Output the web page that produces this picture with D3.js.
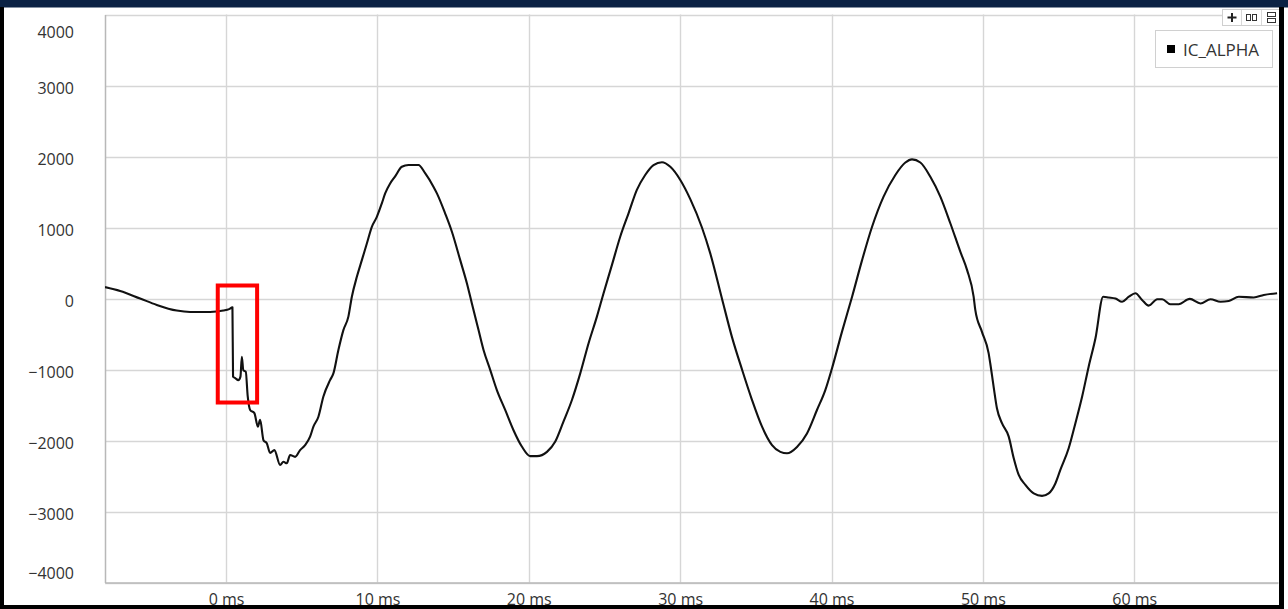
<!DOCTYPE html>
<html>
<head>
<meta charset="utf-8">
<script src="https://cdn.jsdelivr.net/npm/d3@7/dist/d3.min.js"></script>
<style>
  html, body { margin: 0; padding: 0; background: #ffffff; }
  svg { display: block; }
  text { font-family: "Open Sans", "Noto Sans", sans-serif; }
</style>
</head>
<body>
<svg id="chart" width="1288" height="609"></svg>
<script>
// Recorded trace: time in ms, IC_ALPHA sample value
const timeMs = [
  -8.00, -7.00, -5.68, -4.58, -3.26, -2.38, -1.06, -0.18, 0.20, 0.42,
  0.46, 0.60, 0.81, 0.95, 1.04, 1.14, 1.30, 1.43, 1.59, 1.87,
  2.10, 2.25, 2.47, 2.69, 2.91, 3.19, 3.57, 3.79, 4.01, 4.23,
  4.56, 4.89, 5.22, 5.55, 5.77, 6.10, 6.43, 6.87, 7.09, 7.42,
  7.75, 8.08, 8.31, 8.64, 8.97, 9.30, 9.63, 9.96, 10.29, 10.51,
  10.84, 11.17, 11.61, 12.05, 12.71, 13.15, 13.70, 13.93, 14.47, 14.92,
  15.47, 15.91, 16.24, 16.68, 17.01, 17.45, 17.89, 18.44, 18.99, 19.54,
  20.09, 20.54, 21.20, 21.75, 22.29, 22.85, 23.40, 23.95, 24.50, 24.94,
  25.49, 26.04, 26.59, 27.14, 27.69, 28.24, 28.80, 29.35, 30.01, 30.67,
  31.44, 31.99, 32.76, 33.42, 34.08, 34.75, 35.41, 36.07, 36.62, 37.06,
  37.72, 38.38, 39.04, 39.59, 40.03, 40.69, 41.36, 42.02, 42.68, 43.44,
  44.22, 44.88, 45.32, 45.87, 46.53, 47.19, 47.85, 48.51, 48.96, 49.39,
  49.50, 49.94, 50.38, 50.49, 50.71, 50.93, 51.27, 51.71, 52.04, 52.37,
  52.81, 53.36, 53.91, 54.35, 54.79, 55.12, 55.67, 56.11, 56.56, 56.99,
  57.44, 57.95, 58.31, 58.76, 59.20, 59.64, 60.08, 60.52, 60.96, 61.52,
  61.85, 62.39, 62.94, 63.67, 64.38, 65.04, 65.70, 66.25, 66.91, 67.90,
  68.56, 69.44
];
const icAlpha = [
  160, 105, 0, -90, -170, -190, -190, -170, -150, -125,
  -1100, -1120, -1150, -1100, -820, -1010, -1030, -1380, -1570, -1615,
  -1805, -1710, -1995, -2040, -2175, -2135, -2345, -2300, -2320, -2205,
  -2230, -2135, -2065, -1945, -1805, -1665, -1380, -1150, -1055, -725,
  -445, -255, 25, 305, 540, 775, 1010, 1150, 1340, 1480,
  1620, 1720, 1855, 1880, 1880, 1765, 1575, 1480, 1200, 940,
  540, 215, -70, -445, -725, -1005, -1290, -1570, -1855, -2085,
  -2220, -2220, -2160, -2015, -1735, -1430, -1055, -630, -255, 75,
  470, 870, 1200, 1530, 1740, 1880, 1920, 1855, 1670, 1400,
  1000, 635, 0, -540, -995, -1430, -1805, -2065, -2160, -2180,
  -2090, -1900, -1570, -1290, -985, -470, 25, 540, 1010, 1435,
  1740, 1915, 1960, 1915, 1715, 1435, 1060, 660, 400, 25,
  -160, -470, -770, -915, -1240, -1545, -1760, -1945, -2250, -2485,
  -2625, -2745, -2780, -2745, -2605, -2415, -2110, -1760, -1380, -960,
  -560, 25, 15, 0, -45, 25, 75, -20, -100, -10,
  -10, -80, -80, -5, -70, -10, -45, -35, 25, 15,
  50, 75
];

const seriesName = "IC_ALPHA";
const xTicks = [0, 10, 20, 30, 40, 50, 60];
const yTicks = [-4000, -3000, -2000, -1000, 0, 1000, 2000, 3000, 4000];
const xDomain = [-8, 69.5];
const yDomain = [-4000, 4000];
// Highlighted window around the fault instant: [t0, t1, vTop, vBottom]
const highlight = [-0.55, 2.05, 183, -1465];

const W = 1288, H = 609;
const plot = { left: 105, right: 1278, top: 14.5, bottom: 582.5 };

const svg = d3.select("#chart");

const x = d3.scaleLinear().domain(xDomain).range([plot.left, plot.right]);
const y = d3.scaleLinear().domain(yDomain).range([plot.bottom, plot.top]);

// Page background
svg.append("rect").attr("width", W).attr("height", H).attr("fill", "#ffffff");

// Grid
const grid = svg.append("g").attr("class", "grid");
grid.selectAll("line.h").data(yTicks).join("line")
  .attr("class", "h")
  .attr("x1", plot.left).attr("x2", plot.right)
  .attr("y1", d => Math.round(y(d)) + 0.5).attr("y2", d => Math.round(y(d)) + 0.5)
  .attr("stroke", "#d6d6d6").attr("stroke-width", 1.4);
grid.selectAll("line.v").data(xTicks).join("line")
  .attr("class", "v")
  .attr("x1", d => Math.round(x(d)) + 0.5).attr("x2", d => Math.round(x(d)) + 0.5)
  .attr("y1", plot.top).attr("y2", plot.bottom)
  .attr("stroke", "#d6d6d6").attr("stroke-width", 1.4);

// Axes
const yAxis = d3.axisLeft(y).tickValues(yTicks).tickSize(0).tickPadding(31)
  .tickFormat(d3.format("d"));
const gy = svg.append("g").attr("transform", `translate(${plot.left},0)`).call(yAxis);
gy.select(".domain").attr("stroke", "#b8b8b8").attr("stroke-width", 1.5);
gy.selectAll(".tick text")
  .attr("font-size", 16).attr("fill", "#333333")
  .attr("font-family", "'Open Sans', sans-serif")
  .attr("dy", "0.42em")
  .attr("y", d => d === yDomain[1] ? 16 : (d === yDomain[0] ? -11 : 1.5));

const xAxis = d3.axisBottom(x).tickValues(xTicks).tickSize(0)
  .tickFormat(d => d + " ms");
const gx = svg.append("g").attr("transform", `translate(0,${plot.bottom})`).call(xAxis);
gx.select(".domain").attr("stroke", "#b8b8b8").attr("stroke-width", 1.5);
gx.selectAll(".tick text")
  .attr("font-size", 16).attr("fill", "#333333")
  .attr("font-family", "'Open Sans', sans-serif")
  .attr("dy", 0).attr("y", 22.5);

// Trace
svg.append("clipPath").attr("id", "plotClip")
  .append("rect")
  .attr("x", plot.left).attr("y", plot.top)
  .attr("width", plot.right - plot.left).attr("height", plot.bottom - plot.top);

const samples = timeMs.map((t, i) => [t, icAlpha[i]]);
const line = d3.line()
  .x(d => x(d[0])).y(d => y(d[1]))
  .curve(d3.curveMonotoneX);
svg.append("path")
  .attr("clip-path", "url(#plotClip)")
  .attr("d", line(samples))
  .attr("fill", "none")
  .attr("stroke", "#111111")
  .attr("stroke-width", 2.1)
  .attr("stroke-linejoin", "round");

// Highlight box
svg.append("rect")
  .attr("x", x(highlight[0])).attr("y", y(highlight[2]))
  .attr("width", x(highlight[1]) - x(highlight[0]))
  .attr("height", y(highlight[3]) - y(highlight[2]))
  .attr("fill", "none").attr("stroke", "#ff0000").attr("stroke-width", 4);

// Legend
const lg = svg.append("g").attr("class", "legend");
lg.append("rect").attr("x", 1155.5).attr("y", 30.5).attr("width", 117).attr("height", 37)
  .attr("fill", "#ffffff").attr("stroke", "#d0d0d0").attr("stroke-width", 1);
lg.append("rect").attr("x", 1167).attr("y", 45).attr("width", 8).attr("height", 8)
  .attr("fill", "#000000");
lg.append("text").attr("x", 1183).attr("y", 55.5)
  .attr("font-size", 17).attr("fill", "#333333").text(seriesName);

// Toolbar buttons (top right)
const tb = svg.append("g").attr("class", "toolbar");
tb.append("rect").attr("x", 1222.5).attr("y", 9.5).attr("width", 57).attr("height", 16)
  .attr("fill", "#ffffff").attr("stroke", "#cfcfcf");
[1241, 1261].forEach(px => tb.append("line")
  .attr("x1", px + 0.5).attr("x2", px + 0.5).attr("y1", 10).attr("y2", 25)
  .attr("stroke", "#d8d8d8"));
tb.append("path").attr("d", "M1227.5,17.5H1236.5M1232,13V22")
  .attr("stroke", "#222").attr("stroke-width", 2).attr("fill", "none");
tb.append("rect").attr("x", 1246.5).attr("y", 14.5).attr("width", 4).attr("height", 6)
  .attr("fill", "none").attr("stroke", "#333").attr("stroke-width", 1);
tb.append("rect").attr("x", 1252.5).attr("y", 14.5).attr("width", 4).attr("height", 6)
  .attr("fill", "none").attr("stroke", "#333").attr("stroke-width", 1);
tb.append("rect").attr("x", 1267.5).attr("y", 12.5).attr("width", 8).attr("height", 4)
  .attr("fill", "none").attr("stroke", "#333").attr("stroke-width", 1);
tb.append("rect").attr("x", 1267.5).attr("y", 18.5).attr("width", 8).attr("height", 4)
  .attr("fill", "none").attr("stroke", "#333").attr("stroke-width", 1);

// Window frame
svg.append("rect").attr("x", 0).attr("y", 0).attr("width", W).attr("height", 7.5).attr("fill", "#0b2244");
svg.append("rect").attr("x", 0).attr("y", 7).attr("width", 4).attr("height", H - 7).attr("fill", "#000000");
svg.append("rect").attr("x", 1279).attr("y", 7).attr("width", 5).attr("height", H - 7).attr("fill", "#000000");
svg.append("rect").attr("x", 0).attr("y", 605).attr("width", 1284).attr("height", 4).attr("fill", "#000000");
</script>
</body>
</html>
